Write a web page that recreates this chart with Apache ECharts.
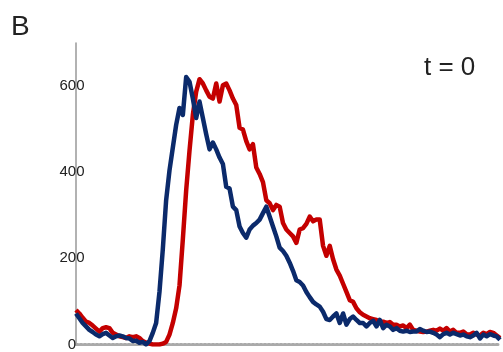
<!DOCTYPE html>
<html>
<head>
<meta charset="utf-8">
<script src="https://cdn.jsdelivr.net/npm/echarts@6/dist/echarts.min.js"></script>
<style>
  html, body { margin: 0; padding: 0; background: #fff; }
  #chart { width: 503px; height: 352px; }
</style>
</head>
<body>
<div id="chart"></div>
<script>
// values, one sample per time step
var redVals = [80, 72, 62, 53, 50, 44, 37, 30, 38, 40, 38, 27, 23, 19, 17, 15, 19, 17, 19, 15,
  8, 4, 2, 0, 0, 0, 2, 6, 23, 50, 84, 137, 244, 358, 450, 533, 587, 616, 606, 590,
  575, 571, 606, 564, 602, 606, 590, 571, 556, 503, 499, 472, 453, 465, 411, 396, 377, 335, 328, 312,
  324, 320, 282, 267, 259, 251, 236, 267, 270, 280, 297, 286, 290, 290, 229, 206, 229, 198, 174, 160,
  141, 122, 103, 99, 84, 75, 69, 65, 61, 59, 57, 53, 53, 50, 52, 46, 46, 42, 44, 38,
  46, 34, 32, 30, 29, 30, 32, 34, 32, 37, 32, 38, 30, 34, 27, 27, 30, 24, 23, 27,
  23, 21, 27, 24, 29, 27, 21, 15]
var blueVals = [72, 61, 50, 42, 34, 29, 23, 19, 24, 27, 21, 15, 19, 21, 19, 15, 14, 8, 9, 4,
  6, 0, 8, 27, 50, 122, 221, 335, 404, 457, 510, 549, 533, 621, 610, 571, 526, 564, 526, 488,
  453, 469, 453, 434, 419, 366, 362, 320, 312, 274, 259, 248, 267, 276, 282, 290, 305, 320, 297, 274,
  251, 225, 217, 206, 190, 171, 149, 145, 137, 122, 110, 99, 93, 88, 76, 59, 57, 65, 72, 50,
  72, 46, 59, 65, 57, 50, 50, 42, 50, 55, 42, 57, 38, 46, 42, 34, 38, 32, 30, 32,
  29, 30, 30, 36, 32, 29, 30, 27, 23, 17, 24, 27, 23, 27, 24, 21, 23, 19, 17, 21,
  27, 14, 23, 19, 24, 21, 19, 11]
var yTicks = [0, 200, 400, 600]

var chart = echarts.init(document.getElementById('chart'))

function toPoints(arr) {
  return arr.map(function (v, i) { return [i, v] })
}

var option = {
  backgroundColor: '#ffffff',
  animation: false,
  grid: { left: 76, right: 3, top: 43, bottom: 5 },
  graphic: [
    {
      type: 'text', left: 11, top: 13,
      style: { text: 'B', font: '28px "Liberation Sans", Arial, sans-serif', fill: '#222' }
    },
    {
      type: 'text', left: 424, top: 55,
      style: { text: 't = 0', font: '26px "Liberation Sans", Arial, sans-serif', fill: '#222' }
    }
  ],
  xAxis: {
    type: 'value',
    min: 0,
    max: redVals.length - 1,
    offset: 2,
    axisLine: { show: true, lineStyle: { color: '#aaaaaa', width: 3, type: [2, 2] } },
    axisTick: { show: false },
    axisLabel: { show: false },
    splitLine: { show: false }
  },
  yAxis: {
    type: 'value',
    min: 0,
    max: 700,
    interval: 200,
    axisLine: { show: true, lineStyle: { color: '#999999', width: 1.5 } },
    axisTick: { show: false },
    splitLine: { show: false },
    axisLabel: {
      showMaxLabel: false,
      align: 'center',
      margin: 4,
      fontSize: 15,
      fontFamily: '"Liberation Sans", Arial, sans-serif',
      color: '#222',
      formatter: function (v) { return yTicks.indexOf(v) >= 0 ? String(v) : '' }
    }
  },
  series: [
    {
      name: 'red',
      type: 'line',
      data: toPoints(redVals),
      showSymbol: false,
      lineStyle: { color: '#c40000', width: 4.5, join: 'round' },
      itemStyle: { color: '#c40000' }
    },
    {
      name: 'blue',
      type: 'line',
      data: toPoints(blueVals),
      showSymbol: false,
      lineStyle: { color: '#0b2a6b', width: 4.5, join: 'round' },
      itemStyle: { color: '#0b2a6b' }
    }
  ]
}

chart.setOption(option)
</script>
</body>
</html>
